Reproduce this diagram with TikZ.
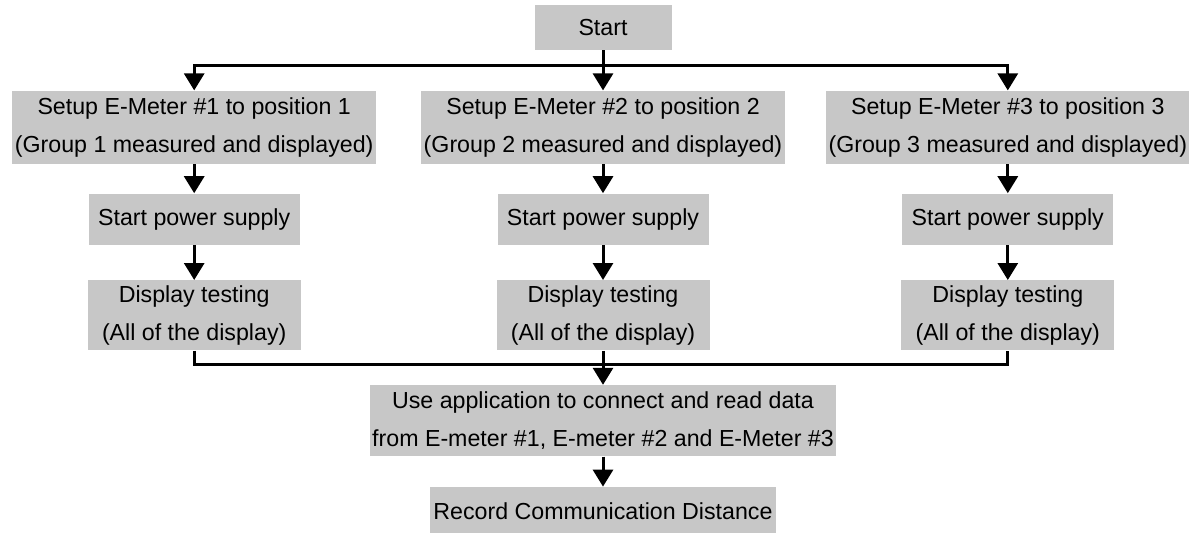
\documentclass[tikz,border=0pt]{standalone}
\usepackage{fontspec}
\setmainfont{Liberation Sans}
\usetikzlibrary{arrows.meta,positioning}

\begin{document}
\begin{tikzpicture}[
		x=1pt, y=1pt,
		arrow/.style={line width=1.5pt, -{Triangle[length=8.5pt,width=10pt]}},
		link/.style={line width=1.5pt},
		block/.style={fill=black!22, align=center, inner xsep=1pt, inner ysep=0pt,
			font=\fontsize{11.6}{19}\selectfont},
		setup/.style={block, minimum width=182pt, minimum height=36.5pt},
		power/.style={block, minimum width=105.5pt, minimum height=25.5pt},
		testing/.style={block, minimum width=106.5pt, minimum height=35pt},
	]
		\useasboundingbox (0,0) rectangle (594.5,-266);
		\node (start) [block, minimum width=68.5pt, minimum height=22.5pt] at (301.5,-13.75) {Start};
		\node (set2) [setup, below=20pt of start] {Setup E-Meter \#2 to position 2\\(Group 2 measured and displayed)};
		\node (set1) [setup, left=22pt of set2] {Setup E-Meter \#1 to position 1\\(Group 1 measured and displayed)};
		\node (set3) [setup, right=20pt of set2] {Setup E-Meter \#3 to position 3\\(Group 3 measured and displayed)};
		
		\node (pow1) [power, below=14.5pt of set1] {Start power supply};
		\node (pow2) [power, below=14.5pt of set2] {Start power supply};
		\node (pow3) [power, below=14.5pt of set3] {Start power supply};
		
		\node (dis1) [testing, below=17.5pt of pow1] {Display testing\\(All of the display)};
		\node (dis2) [testing, below=17.5pt of pow2] {Display testing\\(All of the display)};
		\node (dis3) [testing, below=17.5pt of pow3] {Display testing\\(All of the display)};
		
		\node (app) [block, minimum width=226pt, minimum height=35.5pt, below=17pt of dis2] {Use application to connect and read data\\from E-meter \#1, E-meter \#2 and E-Meter \#3};
		\node (rec) [block, minimum width=173pt, minimum height=24.5pt, below=15pt of app] {Record Communication Distance};
		
		\draw[arrow] (start) -- (set2);
		\draw[arrow] (start.south) -- ++(0,-7.5) -| (set1.north);
		\draw[arrow] (start.south) -- ++(0,-7.5) -| (set3.north);
		\draw[arrow] (set1) -- (pow1);
		\draw[arrow] (set2) -- (pow2);
		\draw[arrow] (set3) -- (pow3);
		\draw[arrow] (pow1) -- (dis1);
		\draw[arrow] (pow2) -- (dis2);
		\draw[arrow] (pow3) -- (dis3);
		\draw[link] (dis1.south) -- ++(0,-7) -| (dis3.south);
		\draw[arrow] (dis2) -- (app);
		\draw[arrow] (app) -- (rec);
	\end{tikzpicture}
\end{document}
